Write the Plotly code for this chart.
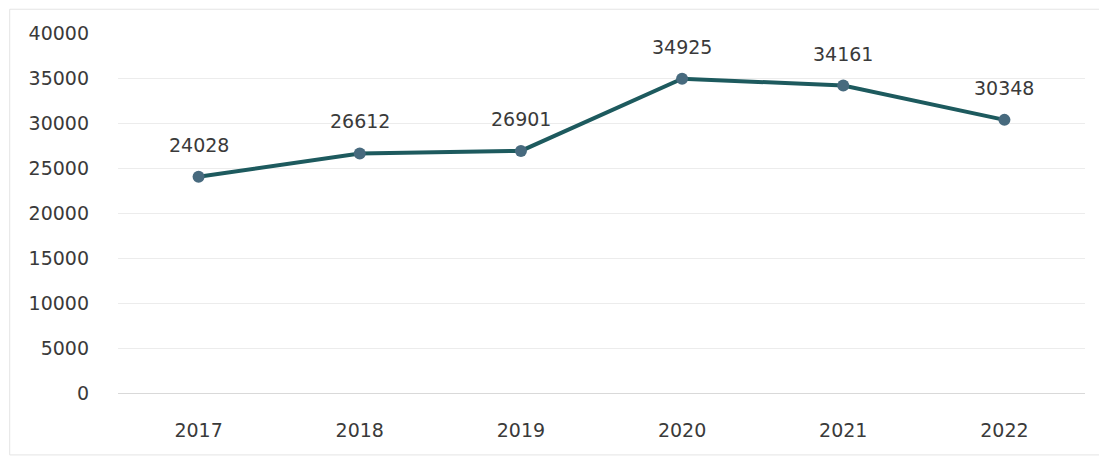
import plotly.graph_objects as go

years = ["2017", "2018", "2019", "2020", "2021", "2022"]
values = [24028, 26612, 26901, 34925, 34161, 30348]
y_ticks = [0, 5000, 10000, 15000, 20000, 25000, 30000, 35000, 40000]

FONT = "DejaVu Sans"
TXT = "#3a3a3a"

fig = go.Figure()

fig.add_trace(go.Scatter(
    x=years,
    y=values,
    mode="lines+markers",
    line=dict(color="#1d5a5e", width=4),
    marker=dict(size=12, color="#476a7e"),
    cliponaxis=False,
    hoverinfo="x+y",
))

# value labels above the points (x given as category index)
for i, v in enumerate(values):
    fig.add_annotation(x=i, y=v, text=str(v), showarrow=False, yshift=32,
                       font=dict(family=FONT, size=19, color=TXT))

# light frame around the chart
fig.add_shape(type="rect", xref="paper", yref="paper",
              x0=-0.112, x1=1.02, y0=-0.172, y1=1.066,
              line=dict(color="#e4e4e4", width=1), layer="below")

fig.update_layout(
    width=1107,
    height=459,
    margin=dict(l=110, r=30, t=25, b=74),
    paper_bgcolor="white",
    plot_bgcolor="white",
    showlegend=False,
    font=dict(family=FONT, size=19, color=TXT),
    xaxis=dict(
        type="category",
        range=[-0.5, 5.5],
        showgrid=False,
        showline=False,
        ticks="",
        tickfont=dict(family=FONT, size=19, color=TXT),
        ticklabelstandoff=24,
    ),
    yaxis=dict(
        range=[0, 40000],
        tickvals=y_ticks,
        ticktext=[str(t) for t in y_ticks],
        showgrid=True,
        gridcolor="#ececec",
        gridwidth=1,
        zeroline=True,
        zerolinecolor="#d9d9d9",
        zerolinewidth=1,
        tickfont=dict(family=FONT, size=19, color=TXT),
        ticklabelstandoff=28,
    ),
)

fig.write_html("out.html")
